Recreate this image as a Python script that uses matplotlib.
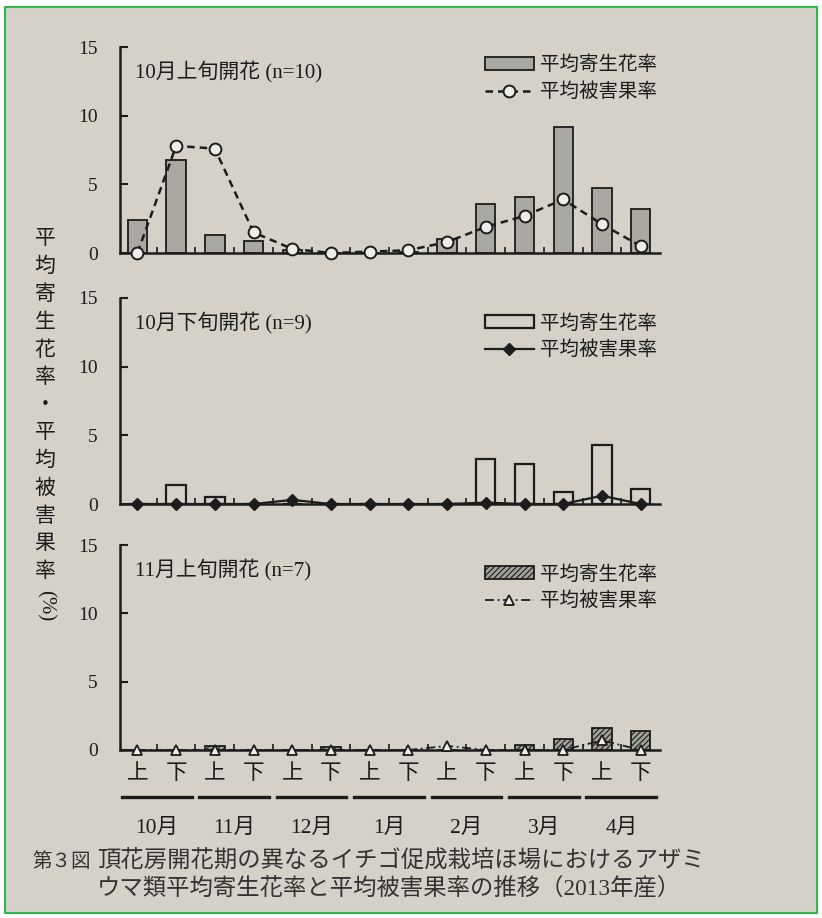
import matplotlib
matplotlib.use('Agg')
import matplotlib.pyplot as plt
from matplotlib.lines import Line2D
from matplotlib.patches import Patch, Rectangle
import matplotlib.transforms as mtransforms
import numpy as np

plt.rcParams['font.family'] = ['Liberation Serif', 'Noto Sans CJK JP']
plt.rcParams['hatch.linewidth'] = 0.8

# ---- data ----
periods = ['上', '下'] * 7
months = ['10月', '11月', '12月', '1月', '2月', '3月', '4月']
titles = ['10月上旬開花 (n=10)', '10月下旬開花 (n=9)', '11月上旬開花 (n=7)']
bar_label = '平均寄生花率'
line_label = '平均被害果率'
yticks = [0, 5, 10, 15]

flower_oct_early = [2.4, 6.8, 1.3, 0.9, 0.2, 0, 0, 0.1, 1.0, 3.6, 4.1, 9.2, 4.7, 3.2]
fruit_oct_early = [0, 7.8, 7.6, 1.5, 0.3, 0, 0.1, 0.2, 0.8, 1.9, 2.7, 3.9, 2.1, 0.5]
flower_oct_late = [0, 1.4, 0.5, 0, 0, 0, 0, 0, 0, 3.3, 2.9, 0.9, 4.3, 1.1]
fruit_oct_late = [0, 0, 0, 0, 0.3, 0, 0, 0, 0, 0.1, 0, 0, 0.6, 0]
flower_nov_early = [0, 0, 0.3, 0, 0, 0.2, 0, 0, 0, 0, 0.4, 0.8, 1.6, 1.4]
fruit_nov_early = [0, 0, 0, 0, 0, 0, 0, 0, 0.3, 0, 0, 0, 0.7, 0]

ylabel_text = '平均寄生花率・平均被害果率'
caption_fig = '第３図'
caption_1 = '頂花房開花期の異なるイチゴ促成栽培ほ場におけるアザミ'
caption_2 = 'ウマ類平均寄生花率と平均被害果率の推移（2013年産）'

# ---- style ----
BG = '#d5d1c9'
INK = '#1c1c1c'
W, H = 822, 918

fig = plt.figure(figsize=(W / 100, H / 100), dpi=100, facecolor='white')
fig.patches.append(Rectangle((5 / W, 1 - 913 / H), 812 / W, 906 / H,
                             transform=fig.transFigure, facecolor=BG,
                             edgecolor='#2dbb4a', lw=1.5, zorder=-10))


def rect(top, bottom):
    return [120 / W, 1 - bottom / H, 540 / W, (bottom - top) / H]


panels = [
    dict(rect=rect(47, 253), flower=flower_oct_early, fruit=fruit_oct_early, leg_y=0.995,
         bar_kw=dict(facecolor='#aaa8a2', edgecolor=INK, linewidth=1.3),
         line_kw=dict(color=INK, ls=(0, (3, 2)), lw=1.8, marker='o', ms=8.5,
                      mfc='#eeece8', mec=INK, mew=1.4)),
    dict(rect=rect(298, 504), flower=flower_oct_late, fruit=fruit_oct_late, leg_y=0.96,
         bar_kw=dict(facecolor='none', edgecolor=INK, linewidth=1.6),
         line_kw=dict(color=INK, ls='-', lw=1.6, marker='D', ms=6.5,
                      mfc=INK, mec=INK)),
    dict(rect=rect(545, 750), flower=flower_nov_early, fruit=fruit_nov_early, leg_y=0.94,
         bar_kw=dict(facecolor='#a3a19c', edgecolor=INK, linewidth=1.3, hatch='//////'),
         line_kw=dict(color=INK, ls=(0, (5, 2, 1, 2)), lw=1.3, marker='^', ms=7.5,
                      mfc='#eeece8', mec=INK, mew=1.3)),
]

x = np.arange(len(periods))
axes = []
for i, p in enumerate(panels):
    ax = fig.add_axes(p['rect'])
    ax.patch.set_alpha(0)
    ax.bar(x, p['flower'], width=0.5, zorder=2, **p['bar_kw'])
    ax.plot(x, p['fruit'], zorder=3, clip_on=False, **p['line_kw'])
    ax.set_xlim(-0.45, 13.5)
    ax.set_ylim(0, 15)
    for s in ['top', 'right']:
        ax.spines[s].set_visible(False)
    for s in ['left', 'bottom']:
        ax.spines[s].set_linewidth(1.8)
        ax.spines[s].set_color(INK)
    ax.set_yticks(yticks)
    ax.set_yticklabels([str(v) for v in yticks], fontsize=14, color=INK)
    ax.tick_params(axis='y', direction='in', length=6, width=1.5, pad=16, colors=INK)
    ax.set_xticks(x)
    ax.set_xticks(x[:-1] + 0.5, minor=True)
    ax.tick_params(axis='x', which='major', length=0, pad=11, colors=INK)
    ax.tick_params(axis='x', which='minor', direction='in', length=4, width=1.2, colors=INK)
    if i < 2:
        ax.set_xticklabels([])
    else:
        ax.set_xticklabels(periods, fontsize=15.5, color=INK)
    ax.text(0.028, 0.88, titles[i], transform=ax.transAxes, fontsize=15,
            va='center', ha='left', color=INK)
    handles = [Patch(**{k: v for k, v in p['bar_kw'].items()}),
               Line2D([], [], **p['line_kw'])]
    ax.legend(handles, [bar_label, line_label], loc='upper right',
              bbox_to_anchor=(1.008, p['leg_y']), frameon=False, fontsize=14,
              handlelength=2.5, handleheight=0.65, handletextpad=0.3,
              labelspacing=0.42, borderaxespad=0, labelcolor=INK)
    axes.append(ax)

ax3 = axes[2]
trans = mtransforms.blended_transform_factory(ax3.transData, ax3.transAxes)
y_line = -(797 - 750) / 205
y_month = -(828 - 750) / 205
for j, m in enumerate(months):
    ax3.add_line(Line2D([2 * j - 0.4, 2 * j + 1.4], [y_line, y_line],
                        transform=trans, clip_on=False, color=INK, lw=2.4))
    ax3.text(2 * j + 0.5, y_month, m, transform=trans, ha='center', va='center',
             fontsize=15.5, color=INK)

# vertical y label
for k, ch in enumerate(ylabel_text):
    fig.text(45 / W, 1 - (240 + k * 27.7) / H, ch, ha='center', va='center',
             fontsize=15, color=INK)
fig.text(45 / W, 1 - (240 + len(ylabel_text) * 27.7 + 6) / H, '(%)', ha='center',
         va='center', fontsize=15, rotation=-90, color=INK)

# caption
fig.text(32 / W, 1 - 862 / H, caption_fig, ha='left', va='center', fontsize=14, color='#333333')
fig.text(97 / W, 1 - 862 / H, caption_1, ha='left', va='center', fontsize=16.8, color='#333333')
fig.text(97 / W, 1 - 889 / H, caption_2, ha='left', va='center', fontsize=16.8, color='#333333')

fig.savefig('out.png', dpi=100, facecolor='white')
